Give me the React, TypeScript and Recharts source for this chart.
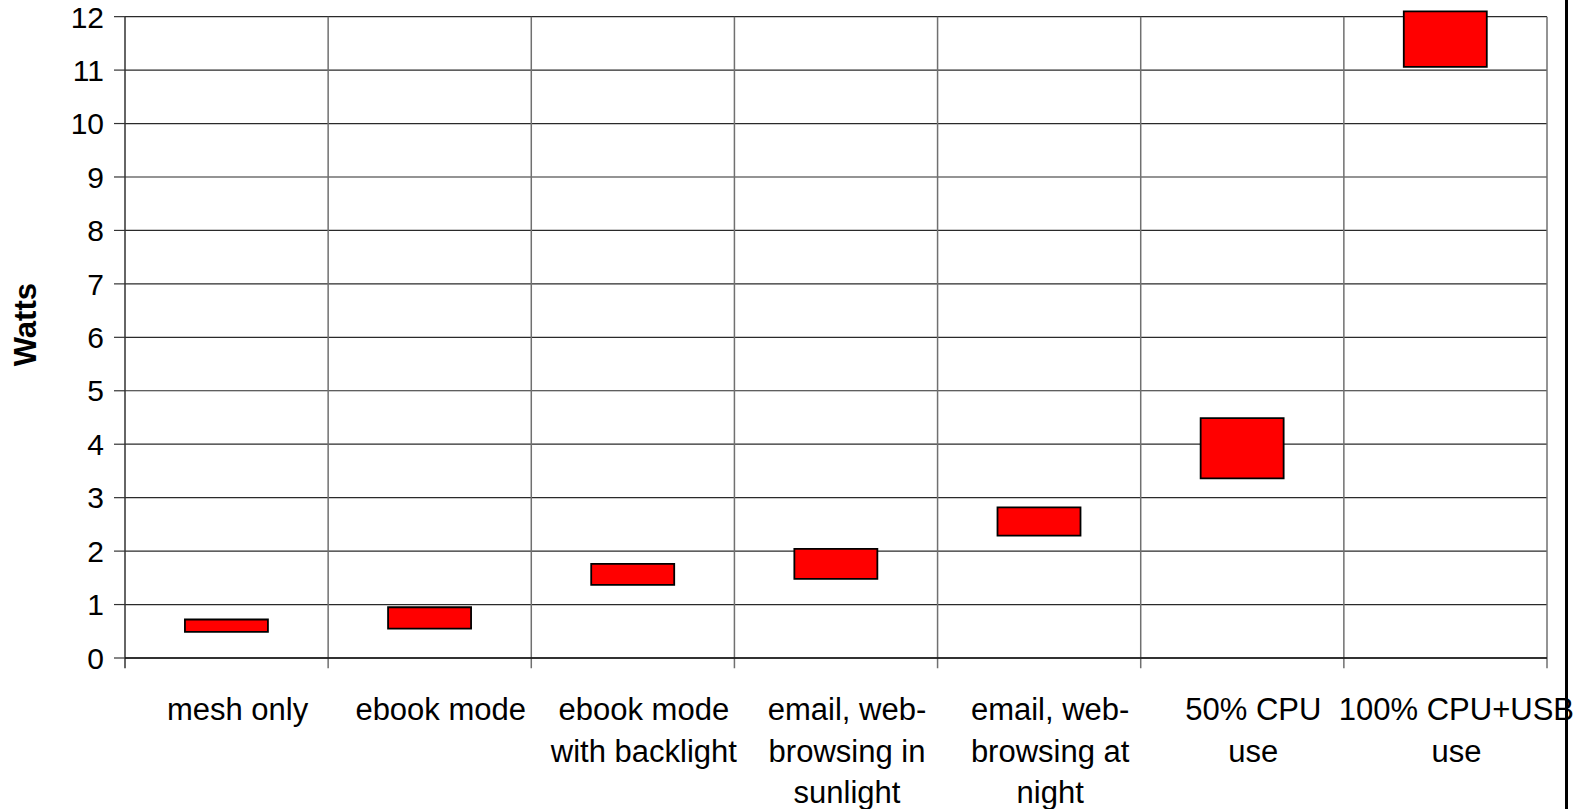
import React from 'react';
import {
  BarChart,
  Bar,
  XAxis,
  YAxis,
  CartesianGrid,
  ReferenceLine,
  Label,
} from 'recharts';

// category labels, one entry per line as printed under the axis
const CATEGORY_LINES: string[][] = [
  ['mesh only'],
  ['ebook mode'],
  ['ebook mode', 'with backlight'],
  ['email, web-', 'browsing in', 'sunlight'],
  ['email, web-', 'browsing at', 'night'],
  ['50% CPU', 'use'],
  ['100% CPU+USB', 'use'],
];

// low / high end of each power range (Watts)
const LOW_WATTS = [0.49, 0.55, 1.37, 1.48, 2.29, 3.36, 11.06];
const HIGH_WATTS = [0.72, 0.95, 1.76, 2.04, 2.82, 4.49, 12.1];

const Y_TICKS = [0, 1, 2, 3, 4, 5, 6, 7, 8, 9, 10, 11, 12];

const FONT = '"Liberation Sans", Arial, sans-serif';

const chartData = CATEGORY_LINES.map((lines, i) => ({
  name: lines.join(' '),
  range: [LOW_WATTS[i], HIGH_WATTS[i]],
}));

// category boundaries: start of every band, plus the end of the last one
const edges = [
  ...chartData.map((d) => ({ name: d.name, pos: 'start' as const })),
  { name: chartData[chartData.length - 1].name, pos: 'end' as const },
];

const CategoryTick = ({ x, y, payload }: any) => {
  const lines = CATEGORY_LINES[payload.index] || [String(payload.value)];
  return (
    <text
      x={x + 11}
      y={y + 62}
      textAnchor="middle"
      fontSize={31}
      fontFamily={FONT}
      fill="#000"
    >
      {lines.map((line, i) => (
        <tspan key={i} x={x + 11} dy={i === 0 ? 0 : 41.5}>
          {line}
        </tspan>
      ))}
    </text>
  );
};

const WattsLabel = ({ viewBox }: any) => {
  const cx = viewBox.x + 26;
  const cy = viewBox.y + viewBox.height / 2 - 10;
  return (
    <text
      x={cx}
      y={cy}
      transform={`rotate(-90, ${cx}, ${cy})`}
      textAnchor="middle"
      dominantBaseline="central"
      fontSize={31}
      fontWeight="bold"
      fontFamily={FONT}
      fill="#000"
    >
      Watts
    </text>
  );
};

export default function App() {
  return (
    <div style={{ position: 'absolute', left: 0, top: 0, width: 1591, height: 809, background: '#fff' }}>
      <BarChart
        width={1591}
        height={809}
        data={chartData}
        margin={{ top: 11.3, right: 44, bottom: 0, left: 0 }}
        barCategoryGap="29.5%"
        style={{ fontFamily: FONT }}
      >
        <CartesianGrid
          vertical={false}
          horizontalValues={Y_TICKS}
          stroke="#2a2a2a"
          strokeWidth={1.2}
        />
        <XAxis
          dataKey="name"
          type="category"
          height={151}
          axisLine={{ stroke: '#111', strokeWidth: 1.3 }}
          tickLine={false}
          tickSize={0}
          tickMargin={0}
          interval={0}
          tick={<CategoryTick />}
        />
        <YAxis
          domain={[0, 12.1]}
          ticks={Y_TICKS}
          width={125}
          axisLine={false}
          tickSize={11}
          tickMargin={10}
          tickLine={{ stroke: '#333', strokeWidth: 1.2 }}
          tick={{ fontSize: 30, fill: '#000', fontFamily: FONT }}
        >
          <Label content={<WattsLabel />} />
        </YAxis>
        {edges.map((e, i) => (
          <ReferenceLine
            key={i}
            segment={[{ x: e.name, y: -0.19 }, { x: e.name, y: 12 }]}
            position={e.pos}
            ifOverflow="visible"
            stroke={i === 0 ? '#333' : '#707070'}
            strokeWidth={1.5}
          />
        ))}
        <Bar
          dataKey="range"
          fill="#ff0000"
          stroke="#000"
          strokeWidth={1.8}
          isAnimationActive={false}
        />
      </BarChart>
      <div style={{ position: 'absolute', left: 1565, top: 0, width: 3, height: 809, background: '#000' }} />
    </div>
  );
}
